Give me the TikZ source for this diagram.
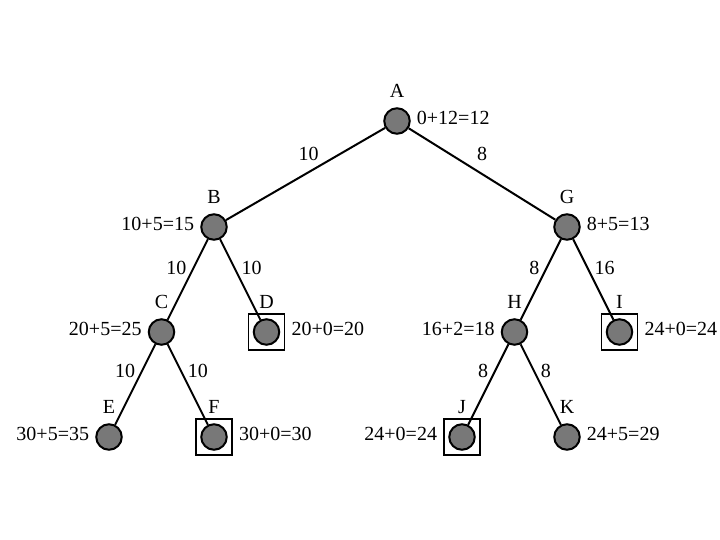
\documentclass[tikz,border=0pt]{standalone}
\usepackage{fontspec}
\setmainfont{Liberation Serif}
\usetikzlibrary{positioning}
\definecolor{stategray}{RGB}{120,120,120}

\begin{document}
\begin{tikzpicture}[
    x=1pt, y=-1pt,
    node distance=105pt and 52.5pt, on grid,
    font=\fontsize{20}{24}\selectfont,
    state/.style={circle, draw, line width=2pt, fill=stategray, minimum size=25.5pt, inner sep=0pt},
    goalbox/.style={rectangle, draw, line width=1.6pt, minimum size=36pt, inner sep=0pt},
    letter/.style={anchor=base, inner sep=0pt},
    cost/.style={inner sep=6pt, yshift=3pt},
    line/.style={draw, line width=2pt},
    weight/.style={inner sep=6pt}
]
    \useasboundingbox (0,0) rectangle (720,540);

    % states
    \node [state] (A) at (397,121) {};
    \node [state, below left=106pt and 183pt of A] (B) {};
    \node [state, below right=106pt and 170pt of A] (G) {};
    \node [state, below left=of B] (C) {};
    \node [state, below right=of B] (D) {};
    \node [state, below left=of G] (H) {};
    \node [state, below right=of G] (I) {};
    \node [state, below left=of C] (E) {};
    \node [state, below right=of C] (F) {};
    \node [state, below left=of H] (J) {};
    \node [state, below right=of H] (K) {};

    % goal boxes
    \node [goalbox] (D-box) at (D) {};
    \node [goalbox] (F-box) at (F) {};
    \node [goalbox] (I-box) at (I) {};
    \node [goalbox] (J-box) at (J) {};

    % names
    \node [letter] (A-name) at ([yshift=9.5pt]A.north) {A};
    \node [letter] (B-name) at ([yshift=9.5pt]B.north) {B};
    \node [letter] (G-name) at ([yshift=9.5pt]G.north) {G};
    \node [letter] (C-name) at ([yshift=9.5pt]C.north) {C};
    \node [letter] (D-name) at ([yshift=9.5pt]D.north) {D};
    \node [letter] (H-name) at ([yshift=9.5pt]H.north) {H};
    \node [letter] (I-name) at ([yshift=9.5pt]I.north) {I};
    \node [letter] (E-name) at ([yshift=9.5pt]E.north) {E};
    \node [letter] (F-name) at ([yshift=9.5pt]F.north) {F};
    \node [letter] (J-name) at ([yshift=9.5pt]J.north) {J};
    \node [letter] (K-name) at ([yshift=9.5pt]K.north) {K};

    % costs g+h=f
    \node [cost, anchor=west] (A-cost) at (A.east) {0+12=12};
    \node [cost, anchor=east] (B-cost) at (B.west) {10+5=15};
    \node [cost, anchor=west] (G-cost) at (G.east) {8+5=13};
    \node [cost, anchor=east] (C-cost) at (C.west) {20+5=25};
    \node [cost, anchor=west] (D-cost) at (D-box.east) {20+0=20};
    \node [cost, anchor=east] (H-cost) at (H.west) {16+2=18};
    \node [cost, anchor=west] (I-cost) at (I-box.east) {24+0=24};
    \node [cost, anchor=east] (E-cost) at (E.west) {30+5=35};
    \node [cost, anchor=west] (F-cost) at (F-box.east) {30+0=30};
    \node [cost, anchor=east] (J-cost) at (J-box.west) {24+0=24};
    \node [cost, anchor=west] (K-cost) at (K.east) {24+5=29};

    % edges
    \path [line] (A) -- node[weight, above=4.5pt, pos=0.48] (AB) {10} (B);
    \path [line] (A) -- node[weight, above=6pt] (AG) {8} (G);
    \path [line] (B) -- node[weight, left, pos=0.36] (BC) {10} (C);
    \path [line] (B) -- node[weight, right, pos=0.36] (BD) {10} (D);
    \path [line] (G) -- node[weight, left, pos=0.36] (GH) {8} (H);
    \path [line] (G) -- node[weight, right, pos=0.36] (GI) {16} (I);
    \path [line] (C) -- node[weight, left, pos=0.33] (CE) {10} (E);
    \path [line] (C) -- node[weight, right, pos=0.33] (CF) {10} (F);
    \path [line] (H) -- node[weight, left, pos=0.33] (HJ) {8} (J);
    \path [line] (H) -- node[weight, right, pos=0.33] (HK) {8} (K);
\end{tikzpicture}
\end{document}
